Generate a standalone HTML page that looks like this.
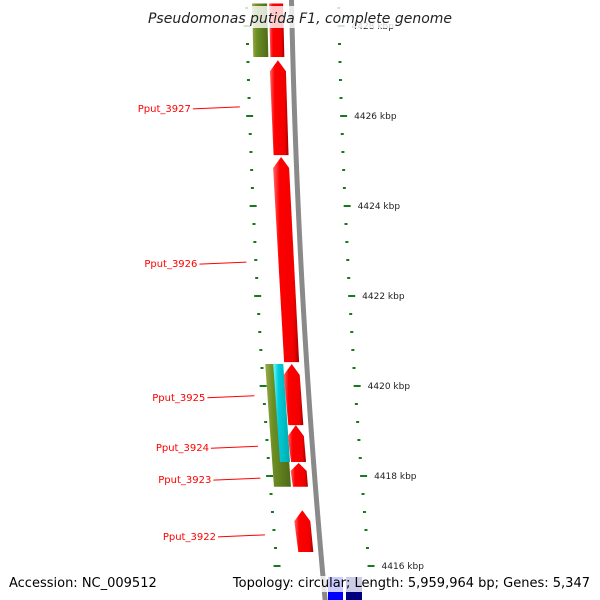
<!DOCTYPE html>
<html><head><meta charset="utf-8"><style>
html,body{margin:0;padding:0;background:#fff;width:600px;height:600px;overflow:hidden}
svg{display:block;font-family:"DejaVu Sans","Liberation Sans",sans-serif}
</style></head><body>
<svg id="map" width="600" height="600" viewBox="0 0 600 600" xmlns="http://www.w3.org/2000/svg">
<defs>
<linearGradient id="gRed" x1="0" x2="1" y1="0" y2="0"><stop offset="0" stop-color="#ff6a6a"/><stop offset="0.25" stop-color="#ff0000"/><stop offset="0.8" stop-color="#f20000"/><stop offset="1" stop-color="#a00000"/></linearGradient>
<linearGradient id="gOl" x1="0" x2="1"><stop offset="0" stop-color="#9aab4a"/><stop offset="0.3" stop-color="#6b8e23"/><stop offset="1" stop-color="#4f6a18"/></linearGradient>
<linearGradient id="gCy" x1="0" x2="1"><stop offset="0" stop-color="#7ff"/><stop offset="0.3" stop-color="#0cd"/><stop offset="1" stop-color="#0aa"/></linearGradient>
</defs>
<g id="layer"></g>
<rect x="0" y="6" width="600" height="22" fill="#fff" opacity="0.8"/>
<text x="300" y="23" text-anchor="middle" font-size="14" font-style="italic" fill="#222">Pseudomonas putida F1, complete genome</text>
<rect x="0" y="576" width="600" height="16" fill="#fff" opacity="0.8"/>
<text x="9" y="587" font-size="13" fill="#000">Accession: NC_009512</text>
<text x="590" y="587" text-anchor="end" font-size="13" fill="#000">Topology: circular; Length: 5,959,964 bp; Genes: 5,347</text>
</svg>
<script>
const kbpLabels = [4416, 4418, 4420, 4422, 4424, 4426, 4428];
const geneNames = ["Pput_3927","Pput_3926","Pput_3925","Pput_3924","Pput_3923","Pput_3922"];
const geneStartKbp = [4425.13, 4420.53, 4419.13, 4418.31, 4417.76, 4416.31];
const geneEndKbp = [4427.24, 4425.09, 4420.49, 4419.13, 4418.29, 4417.24];
const labelKbp = [4426.18, 4422.73, 4419.76, 4418.64, 4417.93, 4416.67];
const topBlock = [4427.31, 4428.5];
const olive1 = [4427.31, 4428.5];
const olive2 = [4417.76, 4420.49];
const cyan1 = [4418.31, 4420.49];

const NS="http://www.w3.org/2000/svg";
const layer=document.getElementById('layer');
function yOf(k){return 116+(4426-k)*45;}
function xRight(y){return 337+0.02*y+0.00006*y*y;}
function xBase(y){return xRight(y)-48;}
function mk(tag,attrs){const e=document.createElementNS(NS,tag);for(const a in attrs)e.setAttribute(a,attrs[a]);layer.appendChild(e);return e;}
function band(k1,k2,off,w,fill,arrow,name){
  let y1=yOf(Math.max(k1,k2)), y2=yOf(Math.min(k1,k2));
  y1=Math.max(y1,-10);
  const xa=xBase(y1)+off, xb=xBase(y2)+off;
  let d;
  if(arrow){const t=Math.min(11,(y2-y1)/3);
    d=`M${xa+w/2},${y1} L${xa+w+0.5},${y1+t} L${xb+w},${y2} L${xb},${y2} L${xa-0.5},${y1+t} Z`;}
  else d=`M${xa},${y1} L${xa+w},${y1} L${xb+w},${y2} L${xb},${y2} Z`;
  const p=mk('path',{d:d,fill:fill});
  
  
}
(function(){let d='';for(let y=-5;y<=605;y+=5){d+=(y===-5?'M':'L')+(xBase(y)+2.5)+','+y+' ';}
const p=mk('path',{d:d,fill:'none','stroke-width':5,stroke:'#8a8a8a'});

})();
for(let k=4415.6;k<=4428.6;k+=0.4){
  const kk=Math.round(k*10)/10, y=yOf(kk);
  const major=Math.abs(kk-Math.round(kk))<0.01 && Math.round(kk)%2===0;
  const w=major?7:3;
  const xr=xRight(y), xl=xr-92;
  const t1=mk('rect',{x:xr,y:y-1,width:w,height:2,fill:'#1a7a1a'});
  
  
  const t2=mk('rect',{x:xl+(major?-2:0),y:y-1,width:w,height:2,fill:'#1a7a1a'});
  
  
}
kbpLabels.forEach(k=>{const y=yOf(k);const t=mk('text',{x:xRight(y)+14,y:y+3,'font-size':9,fill:'#222'});t.textContent=k+' kbp';

});
band(olive1[0],olive1[1],-37,15,'url(#gOl)',false,'feature-olive-top');
band(olive2[0],olive2[1],-39,17,'url(#gOl)',false,'feature-olive');
band(cyan1[0],cyan1[1],-31,10,'url(#gCy)',false,'feature-cyan');
band(topBlock[0],topBlock[1],-20,14,'url(#gRed)',false,'gene-top-block');
geneNames.forEach((g,i)=>{
  band(geneStartKbp[i],geneEndKbp[i],-20,15,'url(#gRed)',true,'gene-'+g.toLowerCase());
  const y=yOf(labelKbp[i]);const xr=xRight(y)-100;
  const l=mk('line',{x1:xr-47,y1:y+1,x2:xr,y2:y-1,stroke:'#f00','stroke-width':1});
  
  
  const t=mk('text',{x:xr-49,y:y+4,'text-anchor':'end','font-size':10,fill:'#f00'});t.textContent=g;
  
  
});
const b1=mk('rect',{x:328,y:577,width:15,height:25,fill:'#0000ff'});


const b2=mk('rect',{x:346,y:577,width:16,height:25,fill:'#000080'});


</script>
</body></html>
